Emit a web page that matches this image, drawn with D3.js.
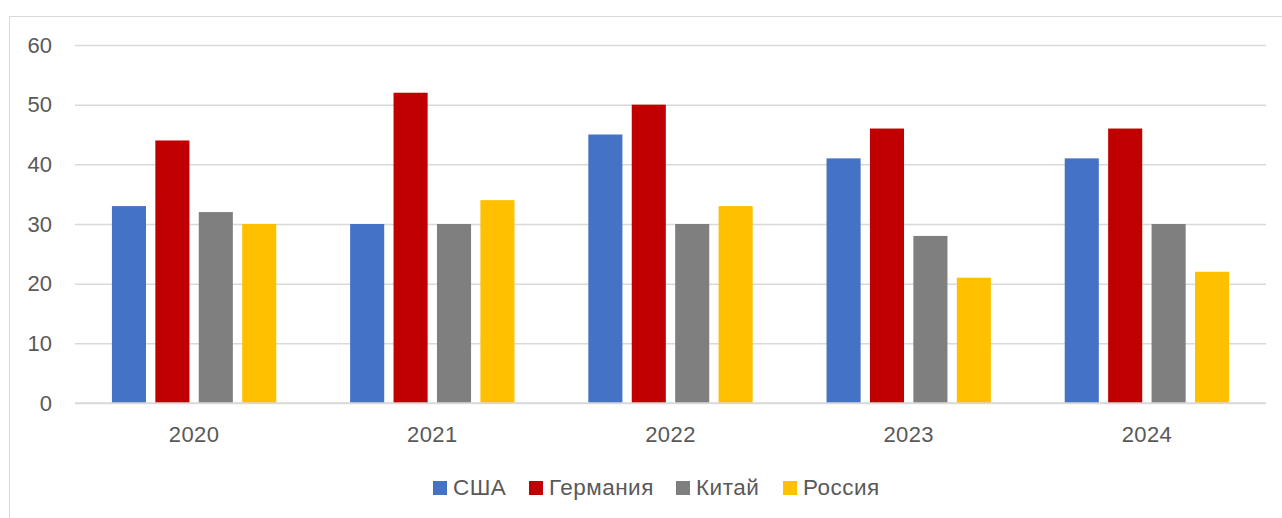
<!DOCTYPE html>
<html>
<head>
<meta charset="utf-8">
<script src="https://cdn.jsdelivr.net/npm/d3@7"></script>
<style>
  html, body { margin: 0; padding: 0; background: #fff; }
  svg { display: block; }
  text { font-family: "Liberation Sans", Arial, sans-serif; fill: #595959; }
</style>
</head>
<body>
<svg id="chart" width="1282" height="518"></svg>
<script>
// Years on the category axis
const years = ["2020", "2021", "2022", "2023", "2024"];
// Series names and colours
const seriesNames = ["США", "Германия", "Китай", "Россия"];
const seriesColors = ["#4472C4", "#C00000", "#7F7F7F", "#FFC000"];
// Values per series, one per year
const usa     = [33, 30, 45, 41, 41];
const germany = [44, 52, 50, 46, 46];
const china   = [32, 30, 30, 28, 30];
const russia  = [30, 34, 33, 21, 22];
// Value axis ticks
const yTicks = [0, 10, 20, 30, 40, 50, 60];

const seriesValues = [usa, germany, china, russia];

const svg = d3.select("#chart");
const W = 1282, H = 518;
const plot = { left: 75, right: 1266, top: 45, bottom: 403 };
const FONT = "'Liberation Sans', Arial, sans-serif";

// outer frame of the chart area
svg.append("rect")
  .attr("x", 9.5).attr("y", 16.5)
  .attr("width", W + 10).attr("height", H + 10)
  .attr("fill", "none").attr("stroke", "#d9d9d9").attr("stroke-width", 1);

const x = d3.scaleBand().domain(years).range([plot.left, plot.right]).paddingInner(0).paddingOuter(0);
const y = d3.scaleLinear().domain([0, 60]).range([plot.bottom, plot.top]);

// group layout inside each category: bars with small gaps
const groupFrac = 0.69;
const x1 = d3.scaleBand().domain(seriesNames)
  .range([0, x.bandwidth() * groupFrac]).paddingInner(0.215).paddingOuter(0);
const groupOffset = x.bandwidth() * (1 - groupFrac) / 2;

// horizontal gridlines with value labels
const yAxis = d3.axisLeft(y).tickValues(yTicks).tickSize(-(plot.right - plot.left)).tickPadding(23);
const gy = svg.append("g").attr("transform", `translate(${plot.left},0)`).call(yAxis);
gy.select(".domain").remove();
gy.selectAll(".tick line").attr("stroke", "#d9d9d9").attr("stroke-width", 1.5);
gy.selectAll(".tick text").attr("font-size", 22).attr("fill", "#595959").style("font-family", FONT);

// bars
years.forEach((yr, i) => {
  const g = svg.append("g").attr("transform", `translate(${x(yr) + groupOffset},0)`);
  g.selectAll("rect")
    .data(seriesNames.map((s, k) => ({ s, v: seriesValues[k][i], c: seriesColors[k] })))
    .join("rect")
    .attr("x", d => x1(d.s))
    .attr("y", d => y(d.v))
    .attr("width", x1.bandwidth())
    .attr("height", d => y(0) - y(d.v))
    .attr("fill", d => d.c);
});

// baseline drawn over the bars
svg.append("line")
  .attr("x1", plot.left).attr("x2", plot.right)
  .attr("y1", y(0)).attr("y2", y(0))
  .attr("stroke", "#d9d9d9").attr("stroke-width", 1.5);

// category axis labels
const xAxis = d3.axisBottom(x).tickSize(0).tickPadding(23);
const gx = svg.append("g").attr("transform", `translate(0,${plot.bottom})`).call(xAxis);
gx.select(".domain").remove();
gx.selectAll(".tick text").attr("font-size", 22).attr("fill", "#595959")
  .attr("letter-spacing", 0.4).style("font-family", FONT);

// legend
const legendX = [433, 529, 676, 783];
const legend = svg.append("g");
seriesNames.forEach((s, k) => {
  legend.append("rect")
    .attr("x", legendX[k]).attr("y", 481)
    .attr("width", 14).attr("height", 14)
    .attr("fill", seriesColors[k]);
  legend.append("text")
    .attr("x", legendX[k] + 20).attr("y", 494.5)
    .attr("font-size", 22.5)
    .attr("letter-spacing", 0.5)
    .text(s);
});
</script>
</body>
</html>
